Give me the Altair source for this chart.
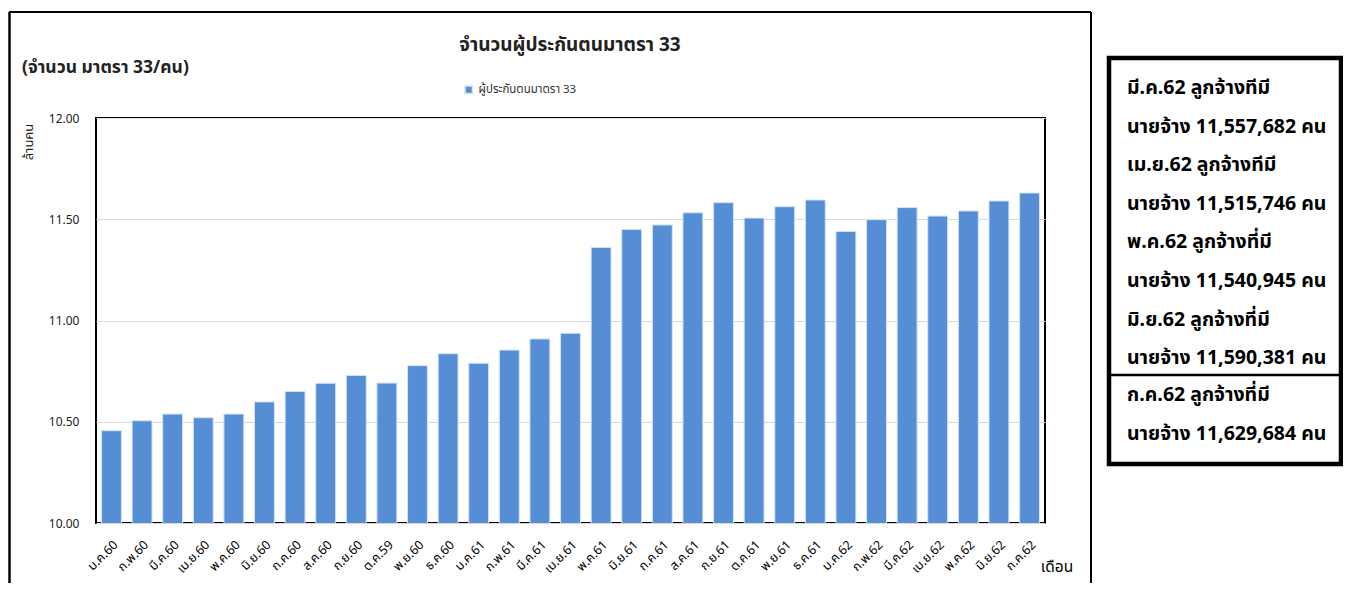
import altair as alt
import pandas as pd

# ---- data ----
months = ["ม.ค.60", "ก.พ.60", "มี.ค.60", "เม.ย.60", "พ.ค.60", "มิ.ย.60", "ก.ค.60", "ส.ค.60",
          "ก.ย.60", "ต.ค.59", "พ.ย.60", "ธ.ค.60", "ม.ค.61", "ก.พ.61", "มี.ค.61", "เม.ย.61",
          "พ.ค.61", "มิ.ย.61", "ก.ค.61", "ส.ค.61", "ก.ย.61", "ต.ค.61", "พ.ย.61", "ธ.ค.61",
          "ม.ค.62", "ก.พ.62", "มี.ค.62", "เม.ย.62", "พ.ค.62", "มิ.ย.62", "ก.ค.62"]
insured_millions = [10.456, 10.505, 10.538, 10.520, 10.538, 10.598, 10.650, 10.690,
                    10.729, 10.691, 10.777, 10.836, 10.789, 10.854, 10.909, 10.937,
                    11.361, 11.450, 11.472, 11.532, 11.582, 11.506, 11.562, 11.595,
                    11.440, 11.498, 11.557682, 11.515746, 11.540945, 11.590381, 11.629684]
series_name = "ผู้ประกันตนมาตรา 33"
y_ticks = [10.0, 10.5, 11.0, 11.5, 12.0]

chart_title = "จำนวนผู้ประกันตนมาตรา 33"
unit_note = "(จำนวน มาตรา 33/คน)"
y_title = "ล้านคน"
x_title = "เดือน"
box_lines_top = ["มี.ค.62 ลูกจ้างทีมี", "นายจ้าง 11,557,682 คน",
                 "เม.ย.62 ลูกจ้างทีมี", "นายจ้าง 11,515,746 คน",
                 "พ.ค.62 ลูกจ้างที่มี", "นายจ้าง 11,540,945 คน",
                 "มิ.ย.62 ลูกจ้างที่มี", "นายจ้าง 11,590,381 คน"]
box_lines_bottom = ["ก.ค.62 ลูกจ้างที่มี", "นายจ้าง 11,629,684 คน"]

FONT = "Tahoma, 'Noto Sans Thai', 'Noto Sans', 'DejaVu Sans', sans-serif"
BAR = "#558ED5"

df = pd.DataFrame({"month": months, "value": insured_millions, "series": series_name})
one = pd.DataFrame({"k": [0]})

base = alt.Chart(df)

bars = base.mark_bar(stroke="#d6e3f5", strokeWidth=1, clip=True).encode(
    x=alt.X("month:N", sort=months, title=None,
            scale=alt.Scale(paddingInner=0.35, paddingOuter=0.18),
            axis=alt.Axis(labelAngle=-45, ticks=False, domain=False, labelPadding=15,
                          labelFontSize=12.5, labelColor="#000000", labelFont=FONT)),
    y=alt.Y("value:Q", title=None,
            scale=alt.Scale(domain=[10, 12], zero=False, nice=False),
            axis=alt.Axis(values=y_ticks, format=".2f", grid=True, gridColor="#d9d9d9",
                          ticks=False, domain=False, labelPadding=17, labelFontSize=12,
                          labelColor="#222222", labelFont=FONT)),
    color=alt.Color("series:N", scale=alt.Scale(domain=[series_name], range=[BAR]),
                    legend=alt.Legend(title=None, orient="none", legendX=367, legendY=-34,
                                      symbolType="square", symbolSize=55,
                                      labelFontSize=11.5, labelFont=FONT,
                                      labelColor="#333333")),
)

ann = alt.Chart(one)

title_t = ann.mark_text(font=FONT, fontSize=19, fontWeight="bold", align="center",
                        baseline="middle", color="#222222").encode(
    x=alt.value(474), y=alt.value(-73), text=alt.value(chart_title))
unit_t = ann.mark_text(font=FONT, fontSize=17.5, fontWeight="bold", align="left",
                       baseline="middle", color="#222222").encode(
    x=alt.value(-74), y=alt.value(-50), text=alt.value(unit_note))
ytitle_t = ann.mark_text(font=FONT, fontSize=13, align="center", baseline="middle",
                         angle=270, color="#222222").encode(
    x=alt.value(-67), y=alt.value(24), text=alt.value(y_title))
xtitle_t = ann.mark_text(font=FONT, fontSize=15.5, align="center", baseline="middle",
                         color="#000000").encode(
    x=alt.value(961), y=alt.value(449), text=alt.value(x_title))

# outer chart frame (left, top, right)
frame_l = ann.mark_rule(color="black", strokeWidth=2.5).encode(
    x=alt.value(-86.5), y=alt.value(-106), y2=alt.value(470))
frame_t = ann.mark_rule(color="black", strokeWidth=2).encode(
    x=alt.value(-87), x2=alt.value(995), y=alt.value(-106))
frame_r = ann.mark_rule(color="black", strokeWidth=2).encode(
    x=alt.value(995), y=alt.value(-106), y2=alt.value(470))

# right note box
box = ann.mark_rect(fill="white", stroke="black", strokeWidth=4.5).encode(
    x=alt.value(1013), x2=alt.value(1245), y=alt.value(-60), y2=alt.value(346))
divider = ann.mark_rule(color="black", strokeWidth=2.5).encode(
    x=alt.value(1013), x2=alt.value(1245), y=alt.value(257))
box_top_t = ann.mark_text(font=FONT, fontSize=19.5, fontWeight="bold", align="left",
                          baseline="middle", lineHeight=38.6, color="#000000").encode(
    x=alt.value(1031), y=alt.value(-30), text=alt.value(box_lines_top))
box_bot_t = ann.mark_text(font=FONT, fontSize=19.5, fontWeight="bold", align="left",
                          baseline="middle", lineHeight=38.6, color="#000000").encode(
    x=alt.value(1031), y=alt.value(277), text=alt.value(box_lines_bottom))

chart = alt.layer(
    frame_l, frame_t, frame_r, box, divider, bars,
    title_t, unit_t, ytitle_t, xtitle_t, box_top_t, box_bot_t
).properties(
    width=949, height=405,
    autosize=alt.AutoSizeParams(type="none"),
    padding={"left": 88, "top": 110, "right": 298, "bottom": 60},
    background="white",
).configure_view(
    stroke="black", strokeWidth=2
)

chart.save("out.html", embed_options={"renderer": "svg", "actions": False})
